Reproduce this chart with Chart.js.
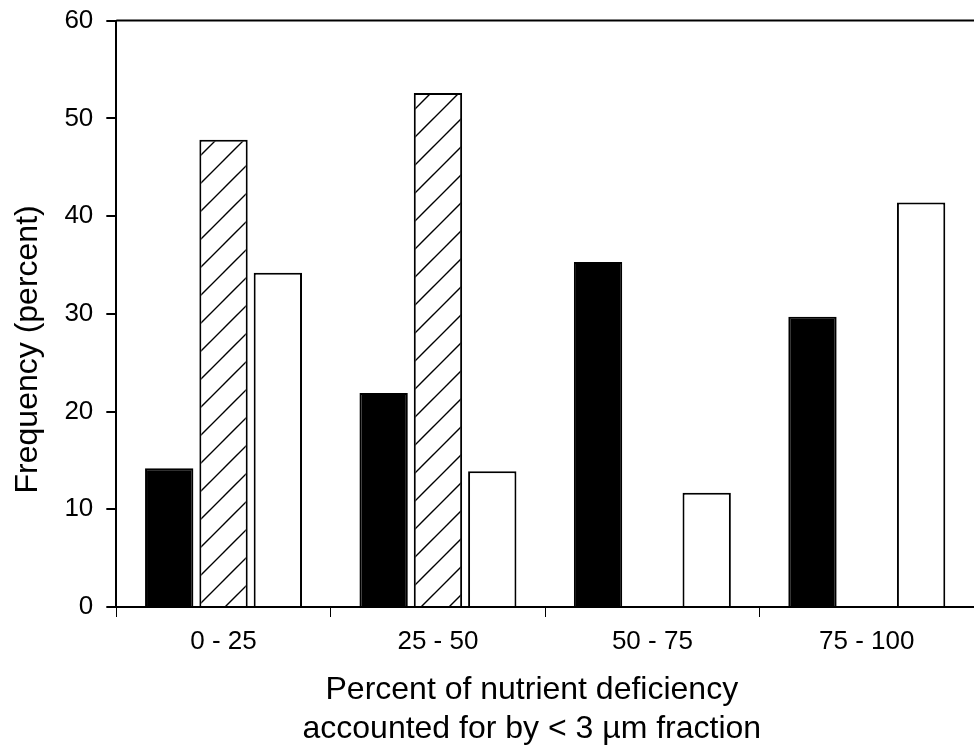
<!DOCTYPE html>
<html>
<head>
<meta charset="utf-8">
<script src="https://cdn.jsdelivr.net/npm/chart.js@4.4.1/dist/chart.umd.min.js"></script>
<style>
  html, body { margin: 0; padding: 0; background: #ffffff; }
  #wrap { width: 974px; height: 750px; overflow: hidden; }
  #grafico { display: block; margin-top: -8px; }
</style>
</head>
<body>
<div id="wrap"><canvas id="grafico" width="974" height="758"></canvas></div>
<script>
// categorias y series
const categorias = ['0 - 25', '25 - 50', '50 - 75', '75 - 100'];
const serieNegra = [14.2, 21.9, 35.3, 29.7];
const serieRayada = [47.8, 52.6, 0, 0];
const serieBlanca = [34.2, 13.9, 11.7, 41.4];
const ticksY = [0, 10, 20, 30, 40, 50, 60];

// patron de rayas diagonales "/"
function patronRayado() {
    const c = document.createElement('canvas');
    const n = 28;
    c.width = n; c.height = n;
    const g = c.getContext('2d');
    g.fillStyle = '#ffffff';
    g.fillRect(0, 0, n, n);
    g.strokeStyle = '#000000';
    g.lineWidth = 1.4;
    g.beginPath();
    g.moveTo(-2, n + 2); g.lineTo(n + 2, -2);
    g.moveTo(-2, 2); g.lineTo(2, -2);
    g.moveTo(n - 2, n + 2); g.lineTo(n + 2, n - 2);
    g.stroke();
    return g.createPattern(c, 'repeat');
}

// linea superior del marco
const lineaSuperior = {
    id: 'lineaSuperior',
    afterDraw(chart) {
        const { ctx, chartArea } = chart;
        ctx.save();
        ctx.strokeStyle = '#000';
        ctx.lineWidth = 2;
        ctx.beginPath();
        ctx.moveTo(chartArea.left, chartArea.top);
        ctx.lineTo(chartArea.right, chartArea.top);
        ctx.stroke();
        ctx.restore();
    }
};

const fuente = "'Liberation Sans', Arial, sans-serif";
const relleno = '\u00a0'.repeat(3);

new Chart(document.getElementById('grafico').getContext('2d'), {
    type: 'bar',
    data: {
        labels: categorias,
        datasets: [
            { data: serieNegra, backgroundColor: '#000', borderColor: '#000', borderWidth: 2 },
            { data: serieRayada, backgroundColor: patronRayado(), borderColor: '#000', borderWidth: 2 },
            { data: serieBlanca, backgroundColor: '#fff', borderColor: '#000', borderWidth: 2 }
        ]
    },
    options: {
        responsive: false,
        animation: false,
        devicePixelRatio: 1,
        layout: { padding: { top: 12, right: 0, left: 9, bottom: 2 } },
        datasets: { bar: { categoryPercentage: 0.76, barPercentage: 0.89 } },
        plugins: { legend: { display: false }, tooltip: { enabled: false } },
        scales: {
            x: {
                grid: { offset: true, drawOnChartArea: false, drawTicks: true, tickLength: 10, color: '#000', lineWidth: 1 },
                border: { display: true, color: '#000', width: 2 },
                ticks: { color: '#000', font: { family: fuente, size: 26 }, padding: 9 },
                title: {
                    display: true,
                    text: ['Percent of nutrient deficiency' + relleno, 'accounted for by < 3 \u00b5m fraction' + relleno],
                    color: '#000',
                    font: { family: fuente, size: 32, lineHeight: 1.2 },
                    padding: { top: 5, bottom: 0 }
                }
            },
            y: {
                min: 0,
                max: 60,
                afterBuildTicks: axis => { axis.ticks = ticksY.map(v => ({ value: v })); },
                grid: { drawOnChartArea: false, drawTicks: true, tickLength: 10, color: '#000', lineWidth: 2 },
                border: { display: true, color: '#000', width: 2 },
                ticks: { color: '#000', font: { family: fuente, size: 26 }, padding: 13 },
                title: {
                    display: true,
                    // espacios al final para bajar el titulo como en el original
                    text: 'Frequency (percent)' + '\u00a0'.repeat(8),
                    color: '#000',
                    font: { family: fuente, size: 32 },
                    padding: { top: 0, bottom: 4 }
                }
            }
        }
    },
    plugins: [lineaSuperior]
});
</script>
</body>
</html>
